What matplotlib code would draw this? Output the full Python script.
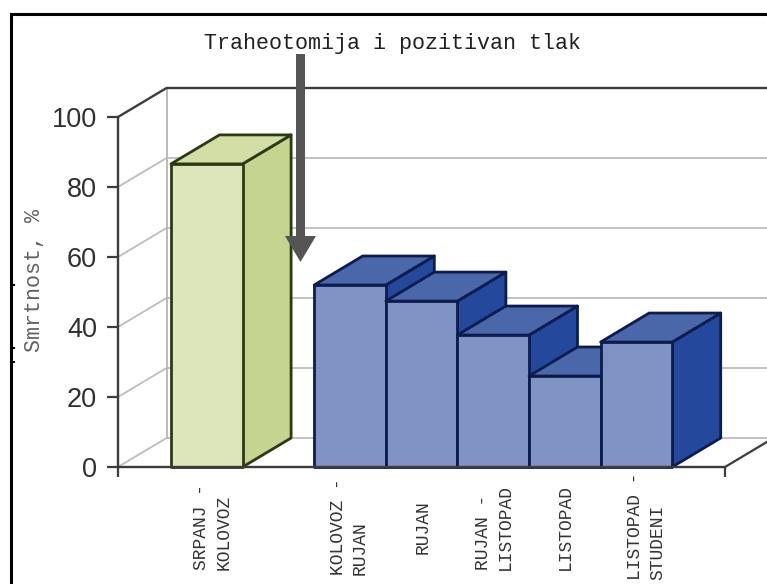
import matplotlib
matplotlib.use("Agg")
import matplotlib.pyplot as plt
from matplotlib.patches import Polygon, Rectangle
from matplotlib.lines import Line2D

# ---- data ----
categories = ["SRPANJ -\nKOLOVOZ", "KOLOVOZ -\nRUJAN", "RUJAN", "RUJAN -\nLISTOPAD",
              "LISTOPAD", "LISTOPAD -\nSTUDENI"]
slots = [0, 2, 3, 4, 5, 6]
mortality = [86.6, 52, 47.4, 37.7, 26, 35.7]
y_ticks = [0, 20, 40, 60, 80, 100]
annotation = "Traheotomija i pozitivan tlak"
y_title = "Smrtnost, %"

# ---- layout (pixels of the 767x584 picture) ----
W, H = 767, 584
SLOT = 71.6
PX_UNIT = 3.5
X_ZERO = 171
LEFT, RIGHT, Y0 = 118, 725, 467
DX, DY = 48.5 / SLOT, 29 / PX_UNIT
label_shift = [6, -1, 2, 1, 1, 10]

fig = plt.figure(figsize=(W / 100, H / 100), dpi=100, facecolor="white")
ax = fig.add_axes([LEFT / W, (H - Y0) / H, (RIGHT - LEFT) / W, 100 * PX_UNIT / H])
ax.patch.set_alpha(0)
ax.set_xlim((LEFT - X_ZERO) / SLOT, (RIGHT - X_ZERO) / SLOT)
ax.set_ylim(0, 100)
xl, xr = ax.get_xlim()
x_edge = (W - X_ZERO) / SLOT

# walls and grid
for t in y_ticks:
    top = t == 100
    ax.plot([xl, xl + DX, x_edge], [t, t + DY, t + DY], clip_on=False,
            color="#3c3c3c" if top else "#bdbdbd", lw=1.7 if top else 1.3,
            zorder=2 if top else 1, solid_capstyle="butt")
ax.plot([xl + DX, xl + DX], [DY, 100 + DY], color="#b5b5b5", lw=1.3, clip_on=False, zorder=1)
ax.plot([xr, x_edge], [0, (W - RIGHT) / SLOT / DX * DY], color="#3c3c3c", lw=1.6,
        clip_on=False, zorder=2)

# bars
GREEN = ("#dde6bb", "#d3dea6", "#c5d48e", "#2c3a14")
BLUE = ("#7f94c4", "#4a67aa", "#24489c", "#0d1c4e")
for i, (s, v) in enumerate(zip(slots, mortality)):
    front, topc, side, edge = GREEN if i == 0 else BLUE
    z = 3 + i
    kw = dict(edgecolor=edge, lw=2.0, joinstyle="round", clip_on=False, zorder=z)
    ax.add_patch(Polygon([(s + 1, 0), (s + 1 + DX, DY), (s + 1 + DX, v + DY), (s + 1, v)],
                         facecolor=side, **kw))
    ax.add_patch(Polygon([(s, v), (s + DX, v + DY), (s + 1 + DX, v + DY), (s + 1, v)],
                         facecolor=topc, **kw))
    ax.add_patch(Rectangle((s, 0), 1, v, facecolor=front, **kw))

# axes
for name in ("top", "right"):
    ax.spines[name].set_visible(False)
for name in ("left", "bottom"):
    ax.spines[name].set_color("#3c3c3c")
    ax.spines[name].set_linewidth(1.7)
    ax.spines[name].set_zorder(20)

ax.set_yticks(y_ticks)
ax.set_yticklabels([str(t) for t in y_ticks], family="Liberation Sans", fontsize=19.5, color="#303030")
ax.tick_params(axis="y", length=8, width=1.6, color="#3c3c3c", pad=7)

ax.set_xticks([s + 0.5 + d / SLOT for s, d in zip(slots, label_shift)])
ax.set_xticklabels(categories, rotation=90, family="Liberation Mono", fontsize=13,
                   color="#333333", va="center", ha="center", multialignment="left",
                   linespacing=1.38)
ax.tick_params(axis="x", which="major", length=0, pad=43)
ax.set_xticks([xl, xr], minor=True)
ax.tick_params(axis="x", which="minor", length=7, width=1.6, color="#3c3c3c", labelbottom=False)

# overlay in picture pixels: frame, arrow, annotation, axis title
ov = fig.add_axes([0, 0, 1, 1], zorder=30)
ov.set_xlim(0, W)
ov.set_ylim(H, 0)
ov.axis("off")
ov.patch.set_alpha(0)
ov.plot([10.5, 10.5, W], [H, 14, 14], color="black", lw=2.2, solid_joinstyle="miter")
for yy in (285, 348, 362):
    ov.add_line(Line2D([11, 14], [yy, yy], color="black", lw=1.5))
ov.add_patch(Polygon([(296, 54), (305, 54), (305, 236), (316, 236), (300.5, 262), (285, 236), (296, 236)],
                     facecolor="#555555", edgecolor="none"))
ov.text(204, 43, annotation, family="Liberation Mono", fontsize=15.6, color="#202020",
        ha="left", va="center")
ov.text(35, 280, y_title, family="Liberation Mono", fontsize=15.6, color="#606060",
        rotation=90, ha="center", va="center")

fig.savefig("out.png", dpi=100, facecolor="white")
